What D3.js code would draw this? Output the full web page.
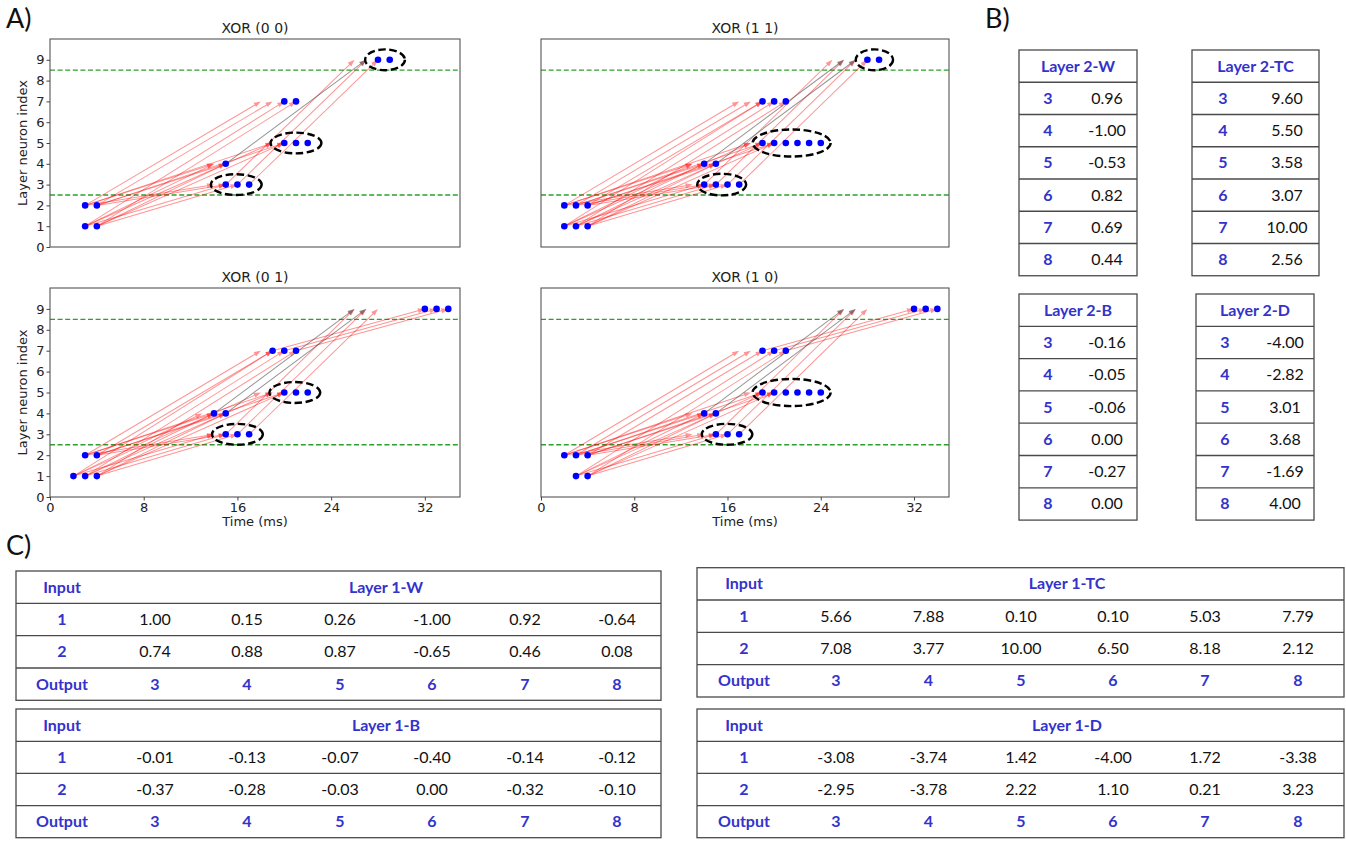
<!DOCTYPE html>
<html><head><meta charset="utf-8">
<script src="https://cdn.jsdelivr.net/npm/d3@7"></script>
<style>body{margin:0;background:#fff} svg{display:block}</style>
</head><body><svg id="c" width="1346" height="841"></svg>
<script>
// ---------------- DATA ----------------
const plotTitles = ["XOR (0 0)", "XOR (1 1)", "XOR (0 1)", "XOR (1 0)"];
const yTicks = [0,1,2,3,4,5,6,7,8,9];
const xTicks = [0,8,16,24,32];
const layerBoundaries = [2.5, 8.5];

// spikes: [neuron, time ms]
const spikes00 = [[1,3],[1,4],[2,3],[2,4],[3,15],[3,16],[3,17],[4,15],[5,20],[5,21],[5,22],[7,20],[7,21],[9,28],[9,29]];
const spikes11 = [[1,2],[1,3],[1,4],[2,2],[2,3],[2,4],[3,14],[3,15],[3,16],[3,17],[4,14],[4,15],[5,19],[5,20],[5,21],[5,22],[5,23],[5,24],[7,19],[7,20],[7,21],[9,28],[9,29]];
const spikes01 = [[1,2],[1,3],[1,4],[2,3],[2,4],[3,15],[3,16],[3,17],[4,14],[4,15],[5,20],[5,21],[5,22],[7,19],[7,20],[7,21],[9,32],[9,33],[9,34]];
const spikes10 = [[1,3],[1,4],[2,2],[2,3],[2,4],[3,15],[3,16],[3,17],[4,14],[4,15],[5,19],[5,20],[5,21],[5,22],[5,23],[5,24],[7,19],[7,20],[7,21],[9,32],[9,33],[9,34]];

// arrows: [t0, neuron0, t1, neuron1, inhibitory(1)=grey]
const arrows00 = [
 [3,1,15,3,0],[4,1,16,3,0],[3,2,14,3,0],[4,2,15,3,0],
 [3,1,14,4,0],[4,1,15,4,0],[3,2,14,4,0],[4,2,15,4,0],
 [3,1,19,5,0],[4,1,20,5,0],[3,2,19,5,0],[4,2,20,5,0],
 [3,1,20,7,0],[4,1,21,7,0],[3,2,18,7,0],[4,2,19,7,0],
 [15,3,26,9,0],[16,3,27,9,0],[17,3,28,9,0],[15,4,27,9,1]];
const arrows11 = [
 [2,1,14,3,0],[3,1,15,3,0],[4,1,16,3,0],[2,2,13,3,0],[3,2,14,3,0],[4,2,15,3,0],
 [2,1,13,4,0],[3,1,14,4,0],[4,1,15,4,0],[2,2,13,4,0],[3,2,14,4,0],[4,2,15,4,0],
 [2,1,18,5,0],[3,1,19,5,0],[4,1,20,5,0],[2,2,18,5,0],[3,2,19,5,0],[4,2,20,5,0],
 [2,1,19,7,0],[3,1,20,7,0],[4,1,21,7,0],[2,2,17,7,0],[3,2,18,7,0],[4,2,19,7,0],
 [14,3,25,9,0],[15,3,26,9,0],[16,3,27,9,0],[17,3,28,9,0],[14,4,26,9,1],[15,4,27,9,1]];
const arrows01 = [
 [2,1,14,3,0],[3,1,15,3,0],[4,1,16,3,0],[3,2,14,3,0],[4,2,15,3,0],
 [2,1,13,4,0],[3,1,14,4,0],[4,1,15,4,0],[3,2,14,4,0],[4,2,15,4,0],
 [2,1,18,5,0],[3,1,19,5,0],[4,1,20,5,0],[3,2,19,5,0],[4,2,20,5,0],
 [2,1,19,7,0],[3,1,20,7,0],[4,1,21,7,0],[3,2,18,7,0],[4,2,19,7,0],
 [15,3,26,9,0],[16,3,27,9,0],[17,3,28,9,0],[19,7,32,9,0],[20,7,33,9,0],[21,7,34,9,0],
 [14,4,26,9,1],[15,4,27,9,1]];
const arrows10 = [
 [3,1,15,3,0],[4,1,16,3,0],[2,2,13,3,0],[3,2,14,3,0],[4,2,15,3,0],
 [3,1,14,4,0],[4,1,15,4,0],[2,2,13,4,0],[3,2,14,4,0],[4,2,15,4,0],
 [3,1,19,5,0],[4,1,20,5,0],[2,2,18,5,0],[3,2,19,5,0],[4,2,20,5,0],
 [3,1,20,7,0],[4,1,21,7,0],[2,2,17,7,0],[3,2,18,7,0],[4,2,19,7,0],
 [15,3,26,9,0],[16,3,27,9,0],[17,3,28,9,0],[19,7,32,9,0],[20,7,33,9,0],[21,7,34,9,0],
 [14,4,26,9,1],[15,4,27,9,1]];

// highlight ellipses: [centre time, centre neuron, half-width ms, half-height]
const ellipses00 = [[15.9,3,2.17,0.5],[21,5,2.17,0.5],[28.6,9,1.7,0.5]];
const ellipses11 = [[15.5,3,2.1,0.52],[21.5,5,3.35,0.65],[28.6,9,1.6,0.5]];
const ellipses01 = [[16.0,3,2.17,0.5],[20.9,5,2.17,0.5]];
const ellipses10 = [[15.96,3,2.17,0.5],[21.5,5,3.35,0.65]];

// tables
const hiddenNeurons = [3,4,5,6,7,8];
const inputNeurons = [1,2];
const layer2W  = [0.96,-1.00,-0.53,0.82,0.69,0.44];
const layer2TC = [9.60,5.50,3.58,3.07,10.00,2.56];
const layer2B  = [-0.16,-0.05,-0.06,0.00,-0.27,0.00];
const layer2D  = [-4.00,-2.82,3.01,3.68,-1.69,4.00];
const layer1W  = [[1.00,0.15,0.26,-1.00,0.92,-0.64],[0.74,0.88,0.87,-0.65,0.46,0.08]];
const layer1B  = [[-0.01,-0.13,-0.07,-0.40,-0.14,-0.12],[-0.37,-0.28,-0.03,0.00,-0.32,-0.10]];
const layer1TC = [[5.66,7.88,0.10,0.10,5.03,7.79],[7.08,3.77,10.00,6.50,8.18,2.12]];
const layer1D  = [[-3.08,-3.74,1.42,-4.00,1.72,-3.38],[-2.95,-3.78,2.22,1.10,0.21,3.23]];

// ---------------- DRAW ----------------
const svg = d3.select("#c");
const BLUE = "#3333cc";
const AX_FONT = "DejaVu Sans";

const panels = [
  {title: plotTitles[0], spikes: spikes00, arrows: arrows00, ell: ellipses00, l:50,  r:460, t:39,  b:247, yAx:true,  xAx:false},
  {title: plotTitles[1], spikes: spikes11, arrows: arrows11, ell: ellipses11, l:541, r:949, t:39,  b:247, yAx:false, xAx:false},
  {title: plotTitles[2], spikes: spikes01, arrows: arrows01, ell: ellipses01, l:50,  r:460, t:288, b:497, yAx:true,  xAx:true},
  {title: plotTitles[3], spikes: spikes10, arrows: arrows10, ell: ellipses10, l:541, r:949, t:288, b:497, yAx:false, xAx:true}
];

function arrowPath(x0,y0,x1,y1,L,W){
  const dx=x1-x0, dy=y1-y0, len=Math.hypot(dx,dy);
  const ux=dx/len, uy=dy/len, px=-uy, py=ux;
  const bx=x1-ux*L, by=y1-uy*L;
  const sw=0.5;
  return `M${x0+px*sw},${y0+py*sw}L${bx+px*sw},${by+py*sw}L${bx+px*W},${by+py*W}L${x1},${y1}L${bx-px*W},${by-py*W}L${bx-px*sw},${by-py*sw}L${x0-px*sw},${y0-py*sw}Z`;
}

panels.forEach(p=>{
  const g = svg.append("g");
  const x = d3.scaleLinear().domain([0,35]).range([p.l,p.r]);
  const y = d3.scaleLinear().domain([0,10]).range([p.b,p.t]);

  g.selectAll("line.thr").data(layerBoundaries).join("line")
    .attr("x1",p.l).attr("x2",p.r).attr("y1",d=>y(d)).attr("y2",d=>y(d))
    .attr("stroke","#2ca02c").attr("stroke-width",1.3).attr("stroke-dasharray","5,2.6");

  g.selectAll("path.arr").data(p.arrows).join("path")
    .attr("d",d=>arrowPath(x(d[0]),y(d[1]),x(d[2]),y(d[3]),7,2.5))
    .attr("fill",d=>d[4]?"#404040":"#ff0000")
    .attr("fill-opacity",d=>d[4]?0.55:0.42)
    .attr("stroke","none");

  g.selectAll("circle").data(p.spikes).join("circle")
    .attr("cx",d=>x(d[1])).attr("cy",d=>y(d[0])).attr("r",3.3)
    .attr("fill","#0000ff");

  g.selectAll("ellipse").data(p.ell).join("ellipse")
    .attr("cx",d=>x(d[0])).attr("cy",d=>y(d[1]))
    .attr("rx",d=>x(d[0]+d[2])-x(d[0])).attr("ry",d=>y(d[1])-y(d[1]+d[3]))
    .attr("fill","none").attr("stroke","#000").attr("stroke-width",2.4)
    .attr("stroke-dasharray","7.5,3.5");

  g.append("rect").attr("x",p.l).attr("y",p.t).attr("width",p.r-p.l).attr("height",p.b-p.t)
    .attr("fill","none").attr("stroke","#555").attr("stroke-width",1.1);

  g.append("text").attr("x",(p.l+p.r)/2).attr("y",p.t-6).attr("text-anchor","middle")
    .attr("font-family",AX_FONT).attr("font-size",14).attr("fill","#222").text(p.title);

  if(p.yAx){
    const ya = g.append("g").attr("transform",`translate(${p.l},0)`)
      .call(d3.axisLeft(y).tickValues(yTicks).tickSize(3.5).tickSizeOuter(0).tickPadding(2));
    ya.select(".domain").remove();
    ya.selectAll("text").attr("font-family",AX_FONT).attr("font-size",13).attr("fill","#222");
    ya.selectAll("line").attr("stroke","#444");
    g.append("text").attr("transform",`translate(27,${(p.t+p.b)/2}) rotate(-90)`)
      .attr("text-anchor","middle").attr("font-family",AX_FONT).attr("font-size",13)
      .attr("fill","#222").text("Layer neuron index");
  }
  if(p.xAx){
    const xa = g.append("g").attr("transform",`translate(0,${p.b})`)
      .call(d3.axisBottom(x).tickValues(xTicks).tickSize(3.5).tickSizeOuter(0).tickPadding(2));
    xa.select(".domain").remove();
    xa.selectAll("text").attr("font-family",AX_FONT).attr("font-size",13).attr("fill","#222");
    xa.selectAll("line").attr("stroke","#444");
    g.append("text").attr("x",(p.l+p.r)/2).attr("y",p.b+29).attr("text-anchor","middle")
      .attr("font-family",AX_FONT).attr("font-size",13).attr("fill","#222").text("Time (ms)");
  }
});

// panel labels
[["A)",6,28],["B)",985,28],["C)",6,555]].forEach(d=>{
  svg.append("text").attr("x",d[1]).attr("y",d[2]).attr("font-family","Lato")
    .attr("font-size",27).attr("fill","#111").text(d[0]);
});

const TFONT = "Lato";
const fmt = v => v.toFixed(2);
const LINE = "#4a4a4a";

function tableB(x0,x1,y0,rowH,title,vals,idxX,valX){
  const g = svg.append("g");
  const n = vals.length+1;
  g.append("rect").attr("x",x0).attr("y",y0).attr("width",x1-x0).attr("height",rowH*n)
    .attr("fill","none").attr("stroke",LINE).attr("stroke-width",1.3);
  g.selectAll("line").data(d3.range(1,n)).join("line")
    .attr("x1",x0).attr("x2",x1).attr("y1",i=>y0+i*rowH).attr("y2",i=>y0+i*rowH)
    .attr("stroke",LINE).attr("stroke-width",1.3);
  g.append("text").attr("x",(x0+x1)/2).attr("y",y0+rowH/2+5.5).attr("text-anchor","middle")
    .attr("font-family",TFONT).attr("font-weight","bold").attr("font-size",16).attr("fill",BLUE).text(title);
  g.selectAll("text.i").data(hiddenNeurons).join("text").attr("class","i")
    .attr("x",idxX).attr("y",(d,i)=>y0+(i+1.5)*rowH+5.5).attr("text-anchor","middle")
    .attr("font-family",TFONT).attr("font-weight","bold").attr("font-size",16).attr("fill",BLUE).text(d=>d);
  g.selectAll("text.v").data(vals).join("text").attr("class","v")
    .attr("x",valX).attr("y",(d,i)=>y0+(i+1.5)*rowH+5.5).attr("text-anchor","middle")
    .attr("font-family",TFONT).attr("font-size",16).attr("fill","#111").text(d=>fmt(d));
}
tableB(1019,1137,50,32.25,"Layer 2-W",layer2W,1048,1107);
tableB(1192,1319,50,32.25,"Layer 2-TC",layer2TC,1223,1287);
tableB(1019,1137,294,32.3,"Layer 2-B",layer2B,1048,1107);
tableB(1196,1314,294,32.3,"Layer 2-D",layer2D,1225,1285);

function tableC(x0,x1,ys,title,rows,inX,colX,titleX){
  const g = svg.append("g");
  g.append("rect").attr("x",x0).attr("y",ys[0]).attr("width",x1-x0).attr("height",ys[4]-ys[0])
    .attr("fill","none").attr("stroke",LINE).attr("stroke-width",1.3);
  g.selectAll("line").data([ys[1],ys[2],ys[3]]).join("line")
    .attr("x1",x0).attr("x2",x1).attr("y1",d=>d).attr("y2",d=>d)
    .attr("stroke",LINE).attr("stroke-width",1.3);
  const mid = i=>(ys[i]+ys[i+1])/2+5.5;
  const bt = (x,yy,t,col,bold)=>g.append("text").attr("x",x).attr("y",yy).attr("text-anchor","middle")
    .attr("font-family",TFONT).attr("font-weight",bold?"bold":"normal").attr("font-size",16).attr("fill",col).text(t);
  bt(inX,mid(0),"Input",BLUE,true);
  bt(titleX,mid(0),title,BLUE,true);
  rows.forEach((r,ri)=>{
    bt(inX,mid(ri+1),inputNeurons[ri],BLUE,true);
    r.forEach((v,ci)=>bt(colX[ci],mid(ri+1),fmt(v),"#111",false));
  });
  bt(inX,mid(3),"Output",BLUE,true);
  hiddenNeurons.forEach((h,ci)=>bt(colX[ci],mid(3),h,BLUE,true));
}
const colL = [155,247,340,432,525,617];
const colR = [836,928.5,1021,1113,1205,1298];
tableC(16,661,[571,603.3,635.7,668,700.3],"Layer 1-W",layer1W,62,colL,386);
tableC(16,661,[709,741.3,773.3,805.7,837.7],"Layer 1-B",layer1B,62,colL,386);
tableC(697,1344,[567.7,600,632.3,664.7,697],"Layer 1-TC",layer1TC,744,colR,1067);
tableC(697,1344,[709,741.3,773.3,805.7,837.7],"Layer 1-D",layer1D,744,colR,1067);
</script></body></html>
